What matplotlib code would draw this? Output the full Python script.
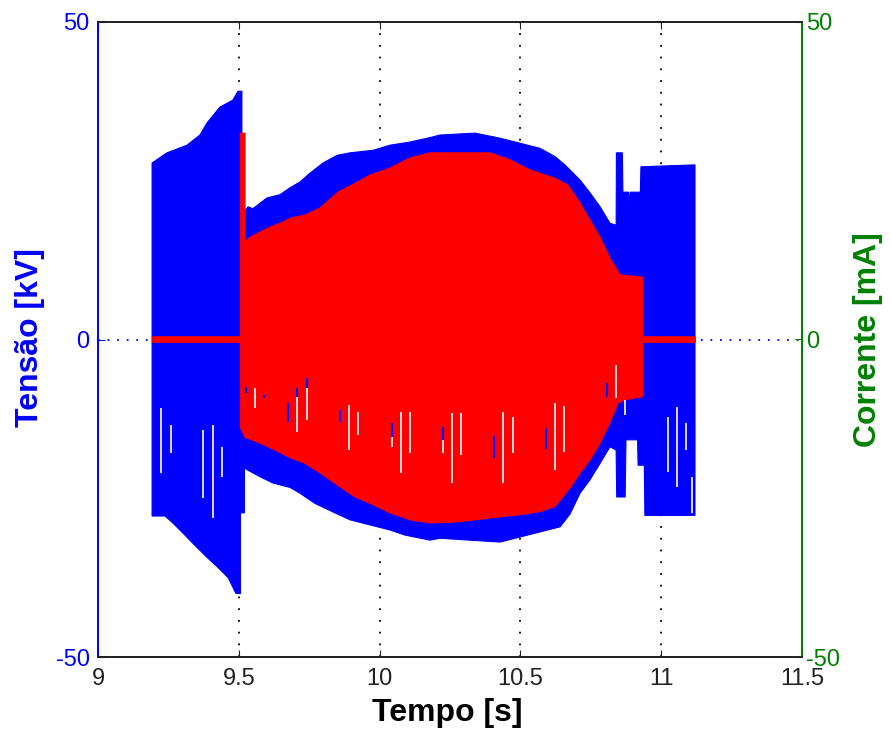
import numpy as np
import matplotlib
matplotlib.use("Agg")
from matplotlib import pyplot as plt

plt.rcParams['font.family'] = ['Liberation Sans', 'DejaVu Sans']
plt.rcParams['axes.unicode_minus'] = False

# tensao (kV) - envelope superior e inferior
volt_hi_t = [9.192, 9.245, 9.316, 9.362, 9.387, 9.433, 9.479, 9.497, 9.511, 9.511,
             9.522, 9.533, 9.550, 9.600, 9.646, 9.682, 9.717, 9.753, 9.799, 9.849,
             9.895, 9.977, 10.037, 10.108, 10.179, 10.214, 10.339, 10.428, 10.499, 10.570,
             10.623, 10.658, 10.712, 10.747, 10.783, 10.818, 10.840, 10.841, 10.862, 10.864,
             10.884, 10.886, 10.890, 10.926, 10.928, 11.120]
volt_hi = [27.8, 29.4, 30.6, 32.2, 34.1, 36.6, 37.7, 39.1, 39.1, 20.3,
           20.3, 20.9, 20.6, 22.3, 22.8, 23.9, 24.8, 26.2, 27.8, 29.0,
           29.4, 29.8, 30.6, 31.1, 31.8, 32.2, 32.5, 31.7, 30.9, 30.1,
           28.8, 27.5, 25.1, 23.1, 20.9, 18.3, 18.0, 29.4, 29.4, 23.2,
           23.2, 21.2, 23.2, 23.2, 27.2, 27.5]
volt_lo_t = [9.192, 9.238, 9.266, 9.302, 9.337, 9.387, 9.426, 9.462, 9.490, 9.506,
             9.506, 9.520, 9.520, 9.533, 9.575, 9.621, 9.682, 9.717, 9.770, 9.841,
             9.895, 9.966, 10.037, 10.090, 10.179, 10.214, 10.321, 10.428, 10.499, 10.570,
             10.641, 10.676, 10.712, 10.747, 10.783, 10.818, 10.840, 10.842, 10.872, 10.875,
             10.916, 10.918, 10.940, 10.942, 11.120]
volt_lo = [-27.8, -27.8, -28.9, -30.5, -32.1, -34.3, -35.9, -37.5, -40.0, -40.0,
           -27.3, -27.3, -20.2, -20.6, -21.6, -22.6, -23.3, -24.2, -25.8, -27.3,
           -28.4, -29.2, -30.0, -30.8, -31.6, -31.3, -31.6, -31.9, -31.1, -30.3,
           -29.5, -27.5, -24.2, -22.1, -19.5, -16.9, -17.4, -24.8, -24.8, -15.8,
           -15.8, -19.8, -19.8, -27.7, -27.7]

# corrente (mA) - envelope durante a descarga
cur_hi_t = [9.505, 9.522, 9.522, 9.539, 9.575, 9.611, 9.657, 9.682, 9.735, 9.788,
            9.852, 9.913, 9.966, 10.037, 10.108, 10.179, 10.285, 10.392, 10.463, 10.534,
            10.623, 10.669, 10.712, 10.747, 10.783, 10.818, 10.854, 10.935]
cur_hi = [32.5, 32.5, 15.4, 16.1, 16.9, 17.7, 18.5, 19.1, 19.6, 20.7,
          23.2, 24.6, 25.9, 27.0, 28.6, 29.4, 29.4, 29.4, 28.3, 26.7,
          25.4, 24.3, 21.5, 18.8, 16.1, 12.8, 10.2, 9.8]
cur_lo_t = [9.505, 9.522, 9.575, 9.628, 9.682, 9.735, 9.788, 9.859, 9.913, 9.966,
            10.037, 10.108, 10.179, 10.285, 10.392, 10.499, 10.570, 10.623, 10.676, 10.712,
            10.747, 10.783, 10.818, 10.847, 10.872, 10.935]
cur_lo = [-13.8, -15.4, -16.3, -17.4, -18.6, -19.5, -21.0, -23.2, -24.8, -25.8,
          -27.3, -28.4, -28.9, -28.7, -28.1, -27.6, -27.1, -26.3, -23.4, -21.0,
          -19.0, -16.3, -13.1, -10.0, -9.5, -9.0]

# corrente antes e depois da descarga (ruido em torno de zero)
idle_start = [9.192, 10.935]
idle_end = [9.507, 11.120]
idle_hi = [0.6, 0.6]
idle_lo = [-0.4, -0.4]

# falhas (brancas) no sinal
gap_t = [9.224, 9.258, 9.373, 9.408, 9.440, 9.558, 9.707, 9.742, 9.891, 9.923,
         10.044, 10.076, 10.108, 10.225, 10.257, 10.289, 10.438, 10.474, 10.623, 10.655,
         10.839, 10.871, 11.024, 11.056, 11.088, 11.109]
gap_lo = [-21.0, -17.9, -25.0, -28.1, -21.6, -10.8, -14.6, -12.7, -17.4, -15.0,
          -16.9, -21.0, -17.9, -17.9, -22.6, -18.2, -22.6, -17.9, -20.6, -17.7,
          -9.2, -11.9, -20.9, -23.2, -17.4, -27.3]
gap_hi = [-10.8, -13.5, -14.3, -13.5, -16.9, -7.6, -9.1, -7.6, -10.3, -11.4,
          -15.4, -11.4, -11.4, -15.8, -11.6, -11.6, -11.4, -12.2, -10.0, -10.5,
          -4.0, -9.5, -12.2, -10.6, -13.1, -21.6]

# tracos de tensao visiveis dentro da corrente
blip_t = [9.526, 9.589, 9.675, 9.707, 9.742, 9.859, 10.044, 10.225, 10.406, 10.591, 10.807]
blip_lo = [-8.5, -9.2, -13.0, -9.1, -7.6, -13.0, -15.4, -15.8, -18.7, -17.2, -9.0]
blip_hi = [-7.5, -8.8, -10.0, -7.6, -6.0, -11.1, -13.1, -13.8, -15.2, -13.9, -6.8]

xticks = [9, 9.5, 10, 10.5, 11, 11.5]
xticklabels = ["9", "9.5", "10", "10.5", "11", "11.5"]
yticks = [-50, 0, 50]

green = (0.0, 0.5, 0.0)

fig = plt.figure(figsize=(8.91, 7.39), dpi=100)
ax = fig.add_axes([98/891, 1 - 657/739, 704/891, 635/739])
ax2 = ax.twinx()

# grade pontilhada
for xg in [9.5, 10, 10.5, 11]:
    ax.axvline(xg, color='black', ls=(0, (1, 5.5)), lw=1.3, zorder=0.5)
ax.axhline(0, color='blue', ls=(0, (1, 4.3)), lw=1.3, zorder=0.5)

# tensao
ax.fill(volt_hi_t + volt_lo_t[::-1], volt_hi + volt_lo[::-1], color='blue', lw=0.8, zorder=2)

# corrente
ax2.fill(cur_hi_t + cur_lo_t[::-1], cur_hi + cur_lo[::-1], color='red', lw=0.8, zorder=2)
for a, b, hi, lo in zip(idle_start, idle_end, idle_hi, idle_lo):
    ax2.fill_between([a, b], [hi, hi], [lo, lo], color='red', lw=0.5, zorder=2)

ax2.vlines(gap_t, gap_lo, gap_hi, colors='white', lw=1.2, zorder=3)
ax2.vlines(blip_t, blip_lo, blip_hi, colors='blue', lw=1.5, zorder=3)

ax.set_xlim(9, 11.5)
ax.set_ylim(-50, 50)
ax2.set_ylim(-50, 50)
ax.set_xticks(xticks)
ax.set_xticklabels(xticklabels)
ax.set_yticks(yticks)
ax2.set_yticks(yticks)

ax.tick_params(axis='x', direction='in', top=True, length=5, colors='#222222',
               labelsize=17, pad=8)
ax.tick_params(axis='y', direction='in', length=5, colors='blue', labelsize=17, pad=6)
ax2.tick_params(axis='y', direction='in', length=5, colors=green, labelsize=17, pad=3)

for a in (ax, ax2):
    a.spines['top'].set_color('#222222')
    a.spines['bottom'].set_color('#222222')
    a.spines['left'].set_color('blue')
    a.spines['right'].set_color(green)
    for s in a.spines.values():
        s.set_linewidth(1.3)

fig.text(30/891, 1 - 338/739, "Tensão [kV]", rotation=90, ha='center', va='center',
         color='blue', fontsize=23, fontweight='bold')
fig.text(868/891, 1 - 340/739, "Corrente [mA]", rotation=90, ha='center', va='center',
         color=green, fontsize=23, fontweight='bold')
fig.text(447/891, 1 - 713/739, "Tempo [s]", ha='center', va='center',
         color='black', fontsize=23, fontweight='bold')

fig.savefig("out.png", dpi=100)
